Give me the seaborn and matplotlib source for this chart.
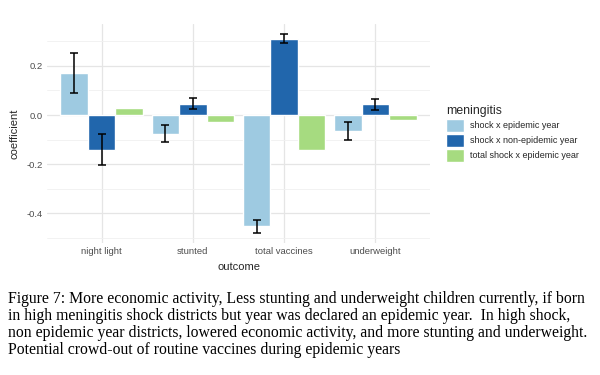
import pandas as pd
import seaborn as sns
import matplotlib.pyplot as plt

# values
outcomes = ["night light", "stunted", "total vaccines", "underweight"]
groups = ["shock x epidemic year", "shock x non-epidemic year", "total shock x epidemic year"]
coef_epi = [0.171, -0.076, -0.452, -0.064]
coef_nonepi = [-0.141, 0.046, 0.309, 0.043]
coef_total = [0.029, -0.029, -0.143, -0.021]
lo_epi = [0.089, -0.109, -0.480, -0.102]
hi_epi = [0.254, -0.041, -0.427, -0.029]
lo_nonepi = [-0.205, 0.025, 0.292, 0.021]
hi_nonepi = [-0.077, 0.068, 0.328, 0.066]

caption = [
    "Figure 7: More economic activity, Less stunting and underweight children currently, if born",
    "in high meningitis shock districts but year was declared an epidemic year.  In high shock,",
    "non epidemic year districts, lowered economic activity, and more stunting and underweight.",
    "Potential crowd-out of routine vaccines during epidemic years",
]

df = pd.DataFrame({
    "outcome": outcomes * 3,
    "meningitis": [groups[0]] * 4 + [groups[1]] * 4 + [groups[2]] * 4,
    "coefficient": coef_epi + coef_nonepi + coef_total,
})

sns.set_theme(style="whitegrid")
plt.rcParams["font.family"] = ["Liberation Sans", "DejaVu Sans"]

fig = plt.figure(figsize=(6, 3.75), dpi=100)
ax = fig.add_axes([0.078, 0.352, 0.639, 0.584])

palette = ["#9ecae1", "#2166ac", "#a6db80"]
sns.barplot(data=df, x="outcome", y="coefficient", hue="meningitis",
            hue_order=groups, palette=palette, width=0.9, errorbar=None,
            saturation=1, ax=ax)

# error bars for the two shock series
for cont, lo, hi in zip(ax.containers[:2], [lo_epi, lo_nonepi], [hi_epi, hi_nonepi]):
    for bar, l, h in zip(cont, lo, hi):
        xc = bar.get_x() + bar.get_width() / 2
        mid = (l + h) / 2
        ax.errorbar(xc, mid, yerr=(h - l) / 2, color="black", lw=1.1,
                    capsize=3, capthick=1.1, zorder=5)

ax.set_xlim(-0.6, 3.6)
ax.set_ylim(-0.52, 0.37)
ax.set_yticks([-0.4, -0.2, 0.0, 0.2])
ax.set_yticklabels(["-0.4", "-0.2", "0.0", "0.2"])
ax.set_yticks([-0.5, -0.3, -0.1, 0.1, 0.3], minor=True)
ax.grid(True, which="major", color="#e5e5e5", lw=0.9)
ax.grid(True, which="minor", axis="y", color="#f0f0f0", lw=0.6)
ax.set_axisbelow(True)
ax.set_facecolor("white")
for s in ax.spines.values():
    s.set_visible(False)
ax.tick_params(axis="both", which="both", length=0, labelsize=6.8,
               labelcolor="#4d4d4d", pad=3)
ax.set_xlabel("outcome", fontsize=8, labelpad=4)
ax.set_ylabel("coefficient", fontsize=8, labelpad=5)

leg = ax.legend(title="meningitis", loc="center left", bbox_to_anchor=(1.02, 0.5),
                frameon=False, fontsize=6.5, title_fontsize=8.8,
                handlelength=2.0, handleheight=1.9, handletextpad=0.7,
                labelspacing=0.2)
leg._legend_box.align = "left"

for i, line in enumerate(caption):
    fig.text(0.014, 1 - (299 + i * 17) / 375, line, fontsize=11.3,
             family=["Liberation Serif", "DejaVu Serif"], va="center", ha="left",
             color="black")

fig.savefig("out.png", dpi=100)
